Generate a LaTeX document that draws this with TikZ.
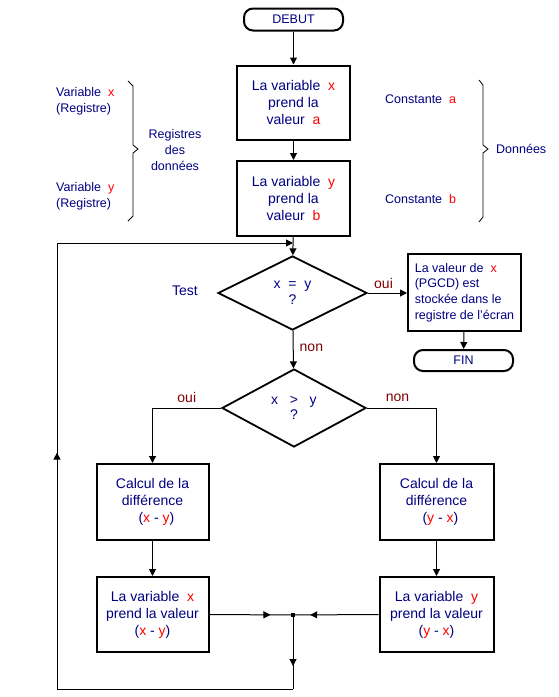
\documentclass[tikz,border=0pt]{standalone}
\usepackage{fontspec}
\setmainfont{Liberation Sans}
\usetikzlibrary{shapes.geometric,arrows.meta,decorations.markings}
\definecolor{navy}{RGB}{0,0,128}
\definecolor{dred}{RGB}{128,0,0}
\newcommand\redv[1]{\textcolor{red}{#1}}
\begin{document}
\begin{tikzpicture}[x=1pt,y=-1pt,
  every node/.style={text=navy, font=\fontsize{12.5}{17}\selectfont, inner sep=0pt},
  bigtext/.style={font=\fontsize{14}{17}\selectfont},
  box/.style={draw=black, line width=2pt, minimum width=113pt, minimum height=74pt, align=center, bigtext},
  term/.style={draw=black, line width=2pt, rounded corners=9pt, minimum width=99pt, minimum height=22pt},
  decide/.style={draw=black, line width=1.8pt, diamond, minimum width=149pt, minimum height=74pt, align=center},
  conn/.style={line width=1pt, -{Triangle[length=7pt,width=7pt]}},
  plain/.style={line width=1pt},
  midarr/.style={line width=1pt, postaction=decorate, decoration={markings, mark=at position #1 with {\arrow{Triangle[length=7pt,width=7pt]}}}},
  lbl/.style={text=dred, bigtext},
  brace/.style={line width=0.8pt}
]
\useasboundingbox (0,0) rectangle (559,697);

% nodes
\node[term] (debut) at (293.5,19.5) {DEBUT};
\node[box] (b1) at (293.5,102.5) {La variable~~\redv{x}\\prend la\\valeur~~\redv{a}};
\node[box, minimum height=75pt] (b2) at (293.5,198.5) {La variable~~\redv{y}\\prend la\\valeur~~\redv{b}};
\node[decide, font=\fontsize{14}{16}\selectfont] (d1) at (292.5,293) {x~~=~~y\\?};
\node[box, minimum height=77pt, align=left, font=\fontsize{12.5}{15.7}\selectfont] (b3) at (464.5,292.5) {La valeur de~~\redv{x}\\(PGCD) est\\stockée dans le\\registre de l'écran};
\node[term, minimum height=21pt] (fin) at (463.5,360.5) {FIN};
\node[decide, minimum width=144pt, minimum height=78pt, font=\fontsize{14}{15}\selectfont] (d2) at (294,408) {x~~~\textgreater~~~y\\?};
\node[box, minimum width=112pt, minimum height=76pt] (b4) at (152.5,502) {Calcul de la\\différence\\~~(\redv{x}~-~\redv{y})};
\node[box, minimum width=114pt, minimum height=76pt] (b5) at (436.5,502) {Calcul de la\\différence\\~~(\redv{y}~-~\redv{x})};
\node[box, minimum width=112pt, minimum height=75pt] (b6) at (152.5,614.5) {La variable~~\redv{x}\\prend la valeur\\(\redv{x}~-~\redv{y})};
\node[box, minimum width=114pt, minimum height=75pt] (b7) at (436.5,614.5) {La variable~~\redv{y}\\prend la valeur\\(\redv{y}~-~\redv{x})};
\node[fill=black, minimum size=4pt] (j) at (293,615) {};

\coordinate (e) at (293,243);
\coordinate (lb) at (293,689);
\coordinate (ll) at (57,689);
\coordinate (lt) at (57,243);

% side texts
\node[anchor=west, align=left, font=\fontsize{12.5}{16}\selectfont] (vx) at (56,101) {Variable~~\redv{x}\\(Registre)};
\node[anchor=west, align=left, font=\fontsize{12.5}{16}\selectfont] (vy) at (56,196.5) {Variable~~\redv{y}\\(Registre)};
\node[align=center, font=\fontsize{12.5}{16}\selectfont] (reg) at (175,150) {Registres\\des\\données};
\node[anchor=west] (ca) at (385,99) {Constante~~\redv{a}};
\node[anchor=west] (cb) at (385,199) {Constante~~\redv{b}};
\node[anchor=west] (don) at (496,149) {Données};
\node[bigtext] (test) at (185,291) {Test};

% braces
\draw[brace] (128,81) -- (133,86) -- (133,145) -- (138,149) -- (133,153) -- (133,216) -- (128,221);
\draw[brace] (479,80) -- (483,85) -- (483,145) -- (488,149) -- (483,153) -- (483,217) -- (479,222);

% connectors
\draw[conn] (debut) -- (b1);
\draw[conn] (b1) -- (b2);
\draw[conn] (b2) -- (d1);
\draw[conn] (d1.east) -- node[lbl, above=4pt, pos=0.4] {oui} (b3.west |- d1.east);
\draw[conn] (b3) -- (fin);
\draw[conn] (d1) -- node[lbl, right=6pt, pos=0.45] {non} (d2);
\draw[conn] (d2.west) -| node[lbl, above=5pt, pos=0.25] {oui} (b4.north);
\draw[conn] (d2.east) -| node[lbl, above=6pt, pos=0.22] {non} (b5.north);
\draw[conn] (b4) -- (b6);
\draw[conn] (b5) -- (b7);
\draw[midarr=0.75] (b6.east) -- (j);
\draw[midarr=0.82] (b7.west) -- (j);
\draw[midarr=0.68] (j) -- (lb);
\draw[plain] (lb) -- (ll);
\draw[midarr=0.53] (ll) -- (lt);
\draw[conn] (lt) -- (e);
\end{tikzpicture}
\end{document}
